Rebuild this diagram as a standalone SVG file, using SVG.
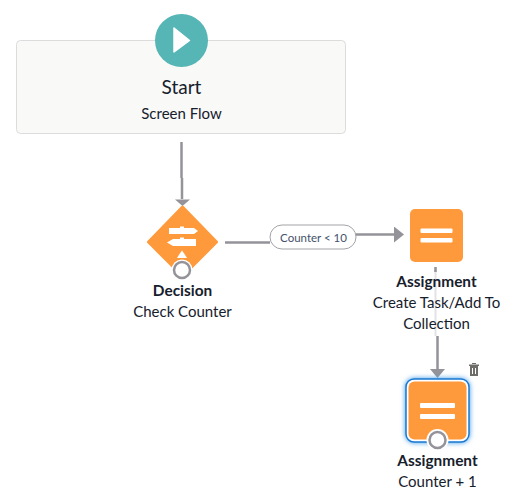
<svg xmlns="http://www.w3.org/2000/svg" width="522" height="504" viewBox="0 0 522 504">
<defs>
<marker id="a" markerUnits="userSpaceOnUse" markerWidth="16" markerHeight="16" refX="0" refY="8" orient="auto"><path d="M0 0L10 8L0 16Z" fill="#939399"/></marker>
<filter id="glow" x="-30%" y="-30%" width="160%" height="160%"><feGaussianBlur stdDeviation="2.5"/></filter>
</defs>
<style>
text{font-family:Lato,"Open Sans",sans-serif;fill:#16202c;text-anchor:middle}
.t{font-size:15px}
.b{font-size:15.400px;font-weight:700}
.l{fill:none;stroke:#939399;stroke-width:2.5}
.w{fill:#fff}
.o{fill:#ff9a3c}
.r{fill:#fff;stroke:#939399;stroke-width:2.5}
</style>
<rect width="522" height="504" fill="#fff"/>
<g id="connectors">
<path class="l" d="M181.500 142V178M182 178V199"/>
<path class="l" d="M225 242.500H270"/>
<path class="l" d="M356 234.500H394" marker-end="url(#a)"/>
<path d="M435.500 267V336" stroke="#e3e3e6" stroke-width="2" fill="none"/>
<path class="l" d="M435.500 267V272" stroke-width="2"/>
<path class="l" d="M437.500 336V369"/>
<path d="M175 199.500H190L182.500 206Z" fill="#939399"/>
<path d="M430 369H445L437.500 378Z" fill="#939399"/>
</g>
<g id="start">
<rect x="16.500" y="40.500" width="329" height="93" rx="4" fill="#f9f9f7" stroke="#dcdcdc"/>
<circle cx="181.500" cy="40.500" r="26.500" fill="#56b5b5"/>
<path d="M174 28V52L189.500 40.500Z" class="w" stroke="#fff" stroke-width="1.500" stroke-linejoin="round"/>
<text x="181.500" y="93.500" font-size="19">Start</text>
<text class="t" x="181.500" y="118.500">Screen Flow</text>
</g>
<g id="decision">
<path d="M182.500 207L216.500 242L182.500 276L148.500 242Z" class="o" stroke="#ff9a3c" stroke-width="3" stroke-linejoin="round"/>
<path d="M169 228H180V226.500H184V228H194L198 231L194 234H169ZM173 239H180V237.500H184V239H196V246H173L167 242.500ZM179.500 254L182 250.500L184.500 254L187 258H177Z" class="w"/>
<circle cx="182" cy="270" r="10.500" fill="#fff"/>
<circle class="r" cx="182" cy="270" r="8"/>
<text class="b" x="182.500" y="295.500">Decision</text>
<text class="t" x="182.500" y="316.500">Check Counter</text>
</g>
<g id="edge-label">
<rect x="270" y="225" width="86" height="24" rx="12" fill="#fff" stroke="#a3a3a8" stroke-width="1"/>
<text x="313.500" y="242" font-size="11.500" style="fill:#43516b">Counter &lt; 10</text>
</g>
<g id="assign1">
<rect x="410" y="209" width="53" height="53" rx="5" class="o"/>
<rect x="420.500" y="228.500" width="32" height="4.500" rx="1" class="w"/>
<rect x="420.500" y="238" width="32" height="4.500" rx="1" class="w"/>
<text class="b" x="436.500" y="286.500">Assignment</text>
<text class="t" x="436.500" y="307.500">Create Task/Add To</text>
<text class="t" x="436.500" y="328.500">Collection</text>
</g>
<g id="assign2">
<rect x="405" y="378" width="65" height="65" rx="9" fill="#4a9fe8" filter="url(#glow)"/>
<rect x="406" y="379" width="63" height="63" rx="8" fill="#fff" stroke="#1a78d0" stroke-width="1.500"/>
<rect x="408.500" y="381.500" width="58" height="58" rx="6" class="o"/>
<rect x="420" y="403" width="35" height="5" rx="1" class="w"/>
<rect x="420" y="414" width="35" height="5" rx="1" class="w"/>
<circle cx="437.500" cy="440" r="11" fill="#fff"/>
<circle cx="437.500" cy="440" r="8" class="r"/>
<text class="b" x="437.500" y="465.500">Assignment</text>
<text class="t" x="437.500" y="486.500">Counter + 1</text>
<path d="M469 366H479V364.500H469ZM472 364V363H476V364ZM470 366H478V376H470Z" fill="#706e6b"/>
<path d="M472.500 368V374M475.500 368V374" stroke="#fff" stroke-width="1"/>
</g>
</svg>
